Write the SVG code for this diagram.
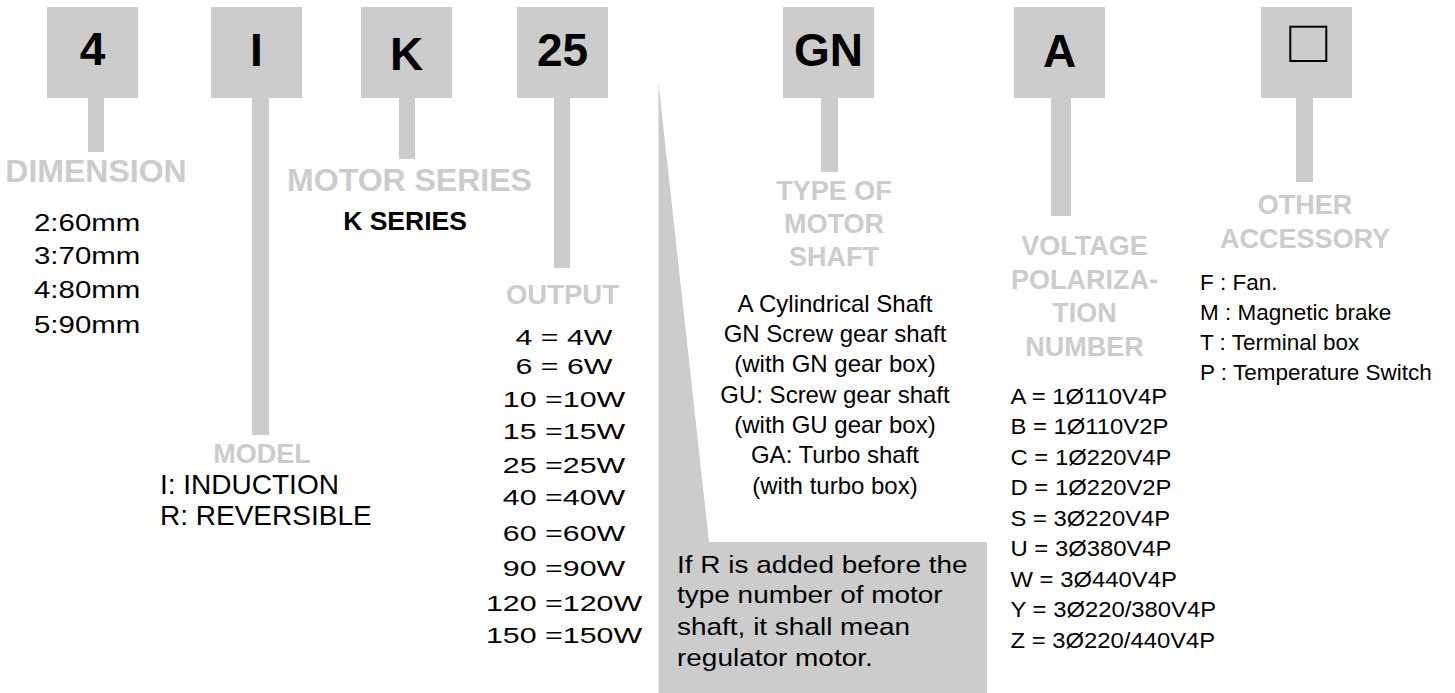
<svg xmlns="http://www.w3.org/2000/svg" width="1455" height="693" viewBox="0 0 1455 693">
<style>
text{font-family:"Liberation Sans",Arial,Helvetica,sans-serif;fill:#000}
.box{fill:#cccccc}
.stem{fill:#cccccc}
.code{font-size:46px;font-weight:bold;text-anchor:middle}
.lbl{font-weight:bold;fill:#cccccc;text-anchor:middle}
.c{text-anchor:middle}
</style>
<rect width="1455" height="693" fill="#ffffff"/>
<g id="connectors">
<rect class="stem" x="88" y="98" width="16" height="54"/>
<rect class="stem" x="252" y="98" width="17" height="337"/>
<rect class="stem" x="399" y="98" width="16" height="61"/>
<rect class="stem" x="554" y="98" width="16" height="170"/>
<rect class="stem" x="821" y="98" width="17" height="74"/>
<rect class="stem" x="1051" y="98" width="20" height="118"/>
<rect class="stem" x="1296" y="98" width="17" height="84"/>
</g>
<g id="node-dimension">
<rect class="box" x="47" y="7" width="91" height="91"/>
<text class="code" x="92.5" y="65">4</text>
<text class="lbl" x="96" y="181.5" font-size="32">DIMENSION</text>
<g transform="translate(34,0) scale(1.28,1)" font-size="23">
<text x="0" y="231.5">2:60mm</text>
<text x="0" y="264.5">3:70mm</text>
<text x="0" y="298.5">4:80mm</text>
<text x="0" y="333">5:90mm</text>
</g>
</g>
<g id="node-model">
<rect class="box" x="211" y="7" width="91" height="91"/>
<text class="code" x="256.5" y="66">I</text>
<text class="lbl" x="262" y="463" font-size="27">MODEL</text>
<text x="160" y="494" font-size="28">I: INDUCTION</text>
<text x="160" y="525" font-size="28">R: REVERSIBLE</text>
</g>
<g id="node-series">
<rect class="box" x="361" y="7" width="91" height="91"/>
<text class="code" x="406.5" y="70" font-size="48">K</text>
<text class="lbl" x="409.5" y="190.5" font-size="32">MOTOR SERIES</text>
<text class="c" x="405" y="230" font-size="26.5" font-weight="bold">K SERIES</text>
</g>
<g id="node-output">
<rect class="box" x="517" y="7" width="91" height="91"/>
<text class="code" x="562.5" y="65.5">25</text>
<text class="lbl" x="562.5" y="304" font-size="27.5">OUTPUT</text>
<g transform="translate(564,0) scale(1.38,1)" font-size="22" text-anchor="middle">
<text x="0" y="345">4 = 4W</text>
<text x="0" y="374">6 = 6W</text>
<text x="0" y="407.5">10 =10W</text>
<text x="0" y="439">15 =15W</text>
<text x="0" y="473.5">25 =25W</text>
<text x="0" y="505.5">40 =40W</text>
<text x="0" y="541">60 =60W</text>
<text x="0" y="576">90 =90W</text>
<text x="0" y="611">120 =120W</text>
<text x="0" y="643.5">150 =150W</text>
</g>
</g>
<g id="node-note">
<polygon class="box" points="658.5,83 709,542 987,542 987,693 658.5,693"/>
<g transform="translate(677,0) scale(1.165,1)" font-size="24">
<text x="0" y="573.5">If R is added before the</text>
<text x="0" y="603.5">type number of motor</text>
<text x="0" y="635">shaft, it shall mean</text>
<text x="0" y="666">regulator motor.</text>
</g>
</g>
<g id="node-shaft">
<rect class="box" x="783" y="7" width="91" height="91"/>
<text class="code" x="828.5" y="66">GN</text>
<text class="lbl" x="834" y="200" font-size="27">TYPE OF</text>
<text class="lbl" x="834" y="233.3" font-size="27">MOTOR</text>
<text class="lbl" x="834" y="266" font-size="27">SHAFT</text>
<g font-size="24" text-anchor="middle">
<text x="835" y="311.7">A Cylindrical Shaft</text>
<text x="835" y="342">GN Screw gear shaft</text>
<text x="835" y="372.3">(with GN gear box)</text>
<text x="835" y="402.6">GU: Screw gear shaft</text>
<text x="835" y="432.9">(with GU gear box)</text>
<text x="835" y="463.2">GA: Turbo shaft</text>
<text x="835" y="493.5">(with turbo box)</text>
</g>
</g>
<g id="node-voltage">
<rect class="box" x="1014" y="7" width="91" height="91"/>
<text class="code" x="1059.5" y="66.5">A</text>
<text class="lbl" x="1084.5" y="255" font-size="27">VOLTAGE</text>
<text class="lbl" x="1084.5" y="288.8" font-size="27">POLARIZA-</text>
<text class="lbl" x="1084.5" y="322" font-size="27">TION</text>
<text class="lbl" x="1084.5" y="355.6" font-size="27">NUMBER</text>
<g transform="translate(1010.5,0) scale(1.06,1)" font-size="22.5">
<text x="0" y="404">A = 1Ø110V4P</text>
<text x="0" y="434.5">B = 1Ø110V2P</text>
<text x="0" y="465">C = 1Ø220V4P</text>
<text x="0" y="495.5">D = 1Ø220V2P</text>
<text x="0" y="526">S = 3Ø220V4P</text>
<text x="0" y="556.5">U = 3Ø380V4P</text>
<text x="0" y="587">W = 3Ø440V4P</text>
<text x="0" y="617.5">Y = 3Ø220/380V4P</text>
<text x="0" y="648">Z = 3Ø220/440V4P</text>
</g>
</g>
<g id="node-accessory">
<rect class="box" x="1261" y="7" width="91" height="91"/>
<rect x="1290.3" y="26.7" width="36" height="34.3" fill="none" stroke="#000" stroke-width="2"/>
<text class="lbl" x="1305" y="214" font-size="27">OTHER</text>
<text class="lbl" x="1305" y="248.3" font-size="27">ACCESSORY</text>
<g font-size="22.5">
<text x="1200" y="290">F : Fan.</text>
<text x="1200" y="320">M : Magnetic brake</text>
<text x="1200" y="350">T : Terminal box</text>
<text x="1200" y="380">P : Temperature Switch</text>
</g>
</g>
</svg>
